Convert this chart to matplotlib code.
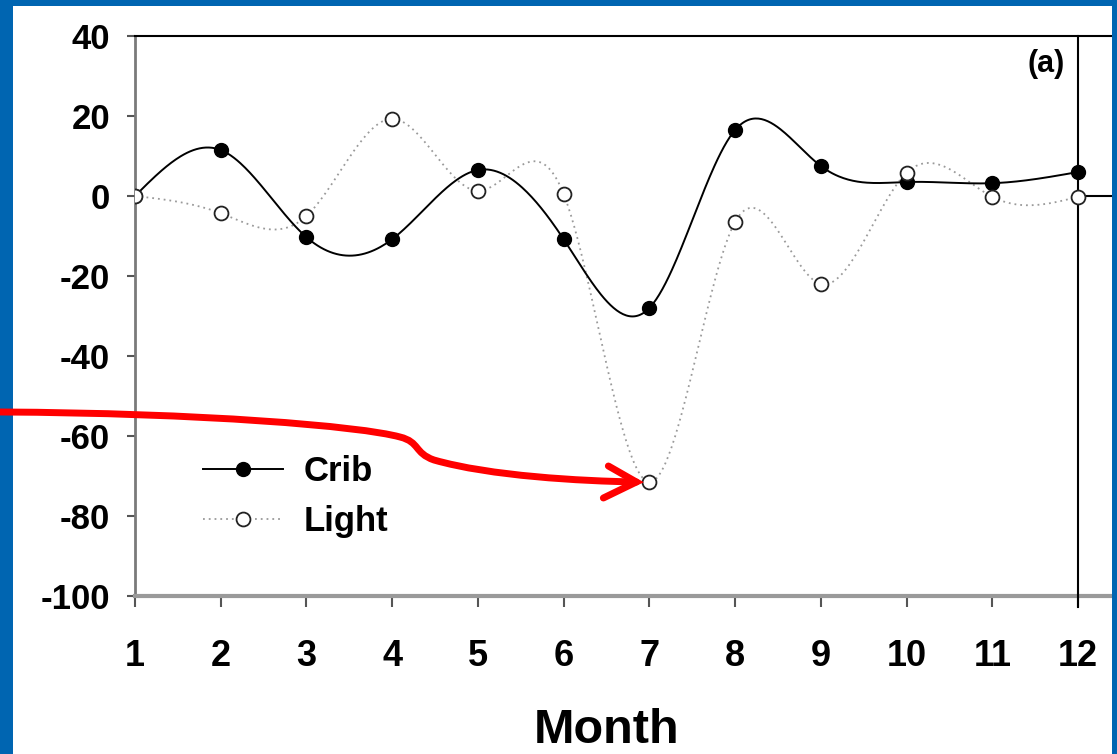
import numpy as np
import matplotlib
matplotlib.use("Agg")
import matplotlib.pyplot as plt
from matplotlib.path import Path
from matplotlib.patches import PathPatch, Rectangle
from matplotlib.lines import Line2D
from matplotlib.transforms import IdentityTransform

months = np.arange(1, 13)
crib = [0, 11.5, -10.3, -10.8, 6.5, -10.8, -28, 16.5, 7.5, 3.5, 3.2, 6]
light = [0, -4.3, -5, 19.3, 1.3, 0.5, -71.5, -6.5, -22, 5.8, -0.2, -0.2]
yticks = [40, 20, 0, -20, -40, -60, -80, -100]

W, H = 1117, 754
BLUE = "#0065b1"
FONT = ["Liberation Sans", "DejaVu Sans"]


def natural_spline(x, y, n=600):
    # natural cubic spline through the points (second derivative 0 at the ends)
    x = np.asarray(x, float)
    y = np.asarray(y, float)
    k = len(x)
    h = np.diff(x)
    A = np.zeros((k, k))
    r = np.zeros(k)
    A[0, 0] = A[-1, -1] = 1
    for i in range(1, k - 1):
        A[i, i - 1] = h[i - 1]
        A[i, i] = 2 * (h[i - 1] + h[i])
        A[i, i + 1] = h[i]
        r[i] = 6 * ((y[i + 1] - y[i]) / h[i] - (y[i] - y[i - 1]) / h[i - 1])
    M = np.linalg.solve(A, r)
    xs = np.linspace(x[0], x[-1], n)
    idx = np.clip(np.searchsorted(x, xs) - 1, 0, k - 2)
    x0, x1 = x[idx], x[idx + 1]
    hh = x1 - x0
    a = (x1 - xs) / hh
    b = (xs - x0) / hh
    ys = (a * y[idx] + b * y[idx + 1]
          + ((a ** 3 - a) * M[idx] + (b ** 3 - b) * M[idx + 1]) * hh ** 2 / 6)
    return xs, ys


fig = plt.figure(figsize=(W / 100, H / 100), dpi=100)
ax = fig.add_axes([135 / W, (H - 596) / H, (W - 135) / W, 560 / H])

xmax = 12 + (W - 1078) / (943 / 11)
ax.set_xlim(1, xmax)
ax.set_ylim(-100, 40)

# smooth curves through the monthly values
xs, ys = natural_spline(months, crib)
ax.plot(xs, ys, color="black", lw=1.4, zorder=3)
xs, ys = natural_spline(months, light)
ax.plot(xs, ys, color="#9a9a9a", lw=1.3, ls=(0, (1, 2.2)), zorder=2)

ax.plot(months, crib, "o", ms=10, mfc="black", mec="black", zorder=5)
ax.plot(months, light, "o", ms=10, mfc="white", mec="#222222", mew=1.3, zorder=6)

# frame lines
ax.axvline(12, ymin=-0.02, ymax=1, color="black", lw=1.5, clip_on=False, zorder=4)
ax.plot([12, xmax], [0, 0], color="black", lw=1.5, zorder=4)

ax.spines["right"].set_visible(False)
ax.spines["top"].set_color("black")
ax.spines["top"].set_linewidth(1.5)
ax.spines["left"].set_color("#7a7a7a")
ax.spines["left"].set_linewidth(2)
ax.spines["bottom"].set_color("#9a9a9a")
ax.spines["bottom"].set_linewidth(3)

ax.set_yticks(yticks)
ax.set_yticklabels([str(v) for v in yticks], fontsize=25, fontweight="bold", family=FONT)
ax.set_xticks(months)
ax.set_xticklabels([str(m) for m in months], fontsize=26, fontweight="bold", family=FONT)
ax.tick_params(axis="y", direction="out", length=6, width=1.5, color="#555555", pad=12)
ax.tick_params(axis="x", direction="out", length=8, width=1.5, color="#555555", pad=23)

ax.set_xlabel("Month", fontsize=35, fontweight="bold", family=FONT)
ax.xaxis.set_label_coords((6.5 - 1) / (xmax - 1), -0.2)

ax.text(11.85, 33, "(a)", fontsize=22, fontweight="bold", ha="right", va="center",
        family=FONT)

handles = [Line2D([], [], color="black", lw=1.4, marker="o", ms=10, mfc="black"),
           Line2D([], [], color="#9a9a9a", lw=1.3, ls=(0, (1, 2.2)), marker="o", ms=10,
                  mfc="white", mec="#222222", mew=1.3)]
ax.legend(handles, ["Crib", "Light"], loc="upper left", frameon=False,
          bbox_to_anchor=(203 / W, (H - 455) / H), bbox_transform=fig.transFigure,
          borderaxespad=0, borderpad=0, handlelength=2.3, handletextpad=0.6,
          labelspacing=0.5, prop={"size": 25, "weight": "bold", "family": FONT})

# slide border
for rect in [(0, 0, 13 / W, 1), (0, 1 - 6 / H, 1, 6 / H), (1 - 5 / W, 0, 5 / W, 1)]:
    fig.add_artist(Rectangle(rect[:2], rect[2], rect[3], transform=fig.transFigure,
                             facecolor=BLUE, edgecolor="none", zorder=10))

# red pointer to the July light value (pixel coordinates, y measured from the top)
fig.canvas.draw()
tx, ty = ax.transData.transform((7, light[6]))
tx -= 13
ty_top = H - ty


def px(x, y):
    return (x, H - y)


verts = [px(0, 412), px(200, 413), px(360, 426), px(400, 437),
         px(420, 442), px(414, 453), px(434, 460),
         px(490, 476), px(580, ty_top - 1), px(tx, ty_top)]
codes = [Path.MOVETO] + [Path.CURVE4] * 9
fig.add_artist(PathPatch(Path(verts, codes), transform=IdentityTransform(),
                         facecolor="none", edgecolor="red", lw=5,
                         capstyle="round", joinstyle="round", zorder=11))
head = [px(tx - 28, ty_top - 16), px(tx, ty_top), px(tx - 33, ty_top + 16)]
fig.add_artist(PathPatch(Path(head, [Path.MOVETO, Path.LINETO, Path.LINETO]),
                         transform=IdentityTransform(), facecolor="none",
                         edgecolor="red", lw=5, capstyle="round",
                         joinstyle="miter", zorder=11))

fig.savefig("out.png", dpi=100, facecolor="white")
